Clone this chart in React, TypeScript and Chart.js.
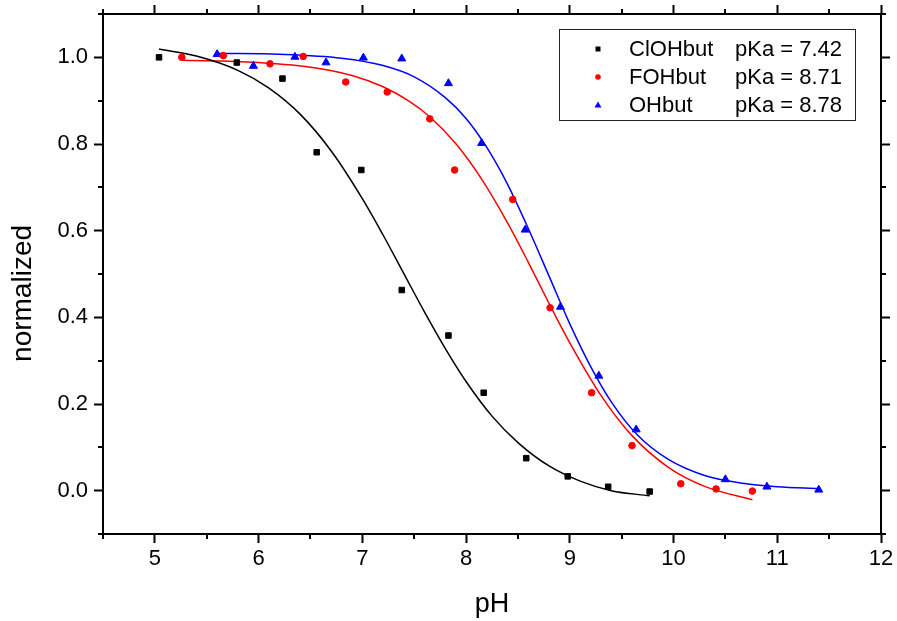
import React, { useEffect, useRef } from "react";
import { Chart, registerables } from "chart.js";

Chart.register(...registerables);

// ---- measured data ----
const clPH = [5.04, 5.79, 6.23, 6.56, 6.99, 7.38, 7.83, 8.17, 8.58, 8.98, 9.37, 9.77];
const clNorm = [1.0, 0.988, 0.951, 0.781, 0.74, 0.463, 0.358, 0.226, 0.075, 0.033, 0.009, -0.002];

const fPH = [5.26, 5.66, 6.11, 6.43, 6.84, 7.24, 7.65, 7.89, 8.45, 8.81, 9.21, 9.6, 10.07, 10.41, 10.76];
const fNorm = [1.0, 1.004, 0.985, 1.002, 0.943, 0.92, 0.858, 0.74, 0.672, 0.422, 0.226, 0.104, 0.016, 0.004, -0.001];

const ohPH = [5.6, 5.95, 6.35, 6.65, 7.01, 7.38, 7.83, 8.15, 8.57, 8.91, 9.28, 9.64, 10.5, 10.9, 11.4];
const ohNorm = [1.007, 0.98, 1.001, 0.988, 0.999, 0.997, 0.94, 0.802, 0.602, 0.424, 0.265, 0.141, 0.026, 0.009, 0.002];

// ---- fitted curves ----
const clFitPH = [5.04, 5.4, 5.8, 6.1, 6.4, 6.7, 7.0, 7.2, 7.4, 7.6, 7.8, 8.0, 8.25, 8.5, 8.8, 9.1, 9.4, 9.77];
const clFitNorm = [1.019, 1.003, 0.97, 0.929, 0.869, 0.784, 0.674, 0.59, 0.501, 0.412, 0.328, 0.252, 0.172, 0.111, 0.057, 0.022, 0.0, -0.012];

const fFitPH = [5.26, 5.9, 6.5, 6.9, 7.2, 7.45, 7.65, 7.9, 8.15, 8.4, 8.6, 8.8, 9.0, 9.3, 9.6, 9.95, 10.3, 10.76];
const fFitNorm = [0.993, 0.989, 0.977, 0.958, 0.932, 0.899, 0.863, 0.801, 0.719, 0.618, 0.527, 0.432, 0.341, 0.22, 0.127, 0.054, 0.01, -0.021];

const ohFitPH = [5.6, 6.2, 6.8, 7.2, 7.5, 7.8, 8.0, 8.2, 8.4, 8.6, 8.8, 9.0, 9.2, 9.4, 9.65, 9.95, 10.3, 10.7, 11.0, 11.4];
const ohFitNorm = [1.009, 1.007, 0.998, 0.981, 0.955, 0.907, 0.859, 0.792, 0.707, 0.605, 0.495, 0.385, 0.287, 0.205, 0.129, 0.072, 0.035, 0.016, 0.009, 0.005];

const seriesNames = ["ClOHbut", "FOHbut", "OHbut"];
const pKaLabels = ["pKa = 7.42", "pKa = 8.71", "pKa = 8.78"];
const seriesColors = ["#000000", "#ff0000", "#0000ff"];
const seriesShapes = ["rect", "circle", "triangle"];

const xMajor = [5, 6, 7, 8, 9, 10, 11, 12];
const xMinor = [4.5, 5.5, 6.5, 7.5, 8.5, 9.5, 10.5, 11.5];
const yMajor = [0, 0.2, 0.4, 0.6, 0.8, 1.0];
const yMinor = [-0.1, 0.1, 0.3, 0.5, 0.7, 0.9, 1.1];

const FONT = "'Liberation Sans', Arial, sans-serif";

const zip = (xs: number[], ys: number[]) => xs.map((x, i) => ({ x, y: ys[i] }));

const minorTicks = {
  id: "minorTicks",
  afterDraw(chart: any) {
    const { ctx, chartArea: a, scales } = chart;
    const xs = scales.x, ys = scales.y;
    ctx.save();
    ctx.strokeStyle = "#000";
    ctx.lineWidth = 2;
    ctx.beginPath();
    for (const v of xMinor) {
      const px = Math.round(xs.getPixelForValue(v));
      ctx.moveTo(px, a.bottom); ctx.lineTo(px, a.bottom + 5);
      ctx.moveTo(px, a.top); ctx.lineTo(px, a.top - 5);
    }
    for (const v of yMinor) {
      const py = Math.round(ys.getPixelForValue(v));
      ctx.moveTo(a.left, py); ctx.lineTo(a.left - 5, py);
      ctx.moveTo(a.right, py); ctx.lineTo(a.right + 5, py);
    }
    ctx.stroke();
    ctx.restore();
  },
};

const legendBox = {
  id: "legendBox",
  afterDraw(chart: any) {
    const { ctx } = chart;
    ctx.save();
    ctx.strokeStyle = "#222";
    ctx.lineWidth = 1;
    ctx.strokeRect(559.5, 29.5, 296, 91);
    ctx.font = `22px ${FONT}`;
    ctx.textBaseline = "middle";
    ctx.textAlign = "left";
    const rows = [49, 77, 105];
    for (let i = 0; i < 3; i++) {
      const y = rows[i];
      const x = 598;
      ctx.fillStyle = seriesColors[i];
      ctx.beginPath();
      if (seriesShapes[i] === "rect") {
        ctx.rect(x - 2.5, y - 2.5, 5, 5);
      } else if (seriesShapes[i] === "circle") {
        ctx.arc(x, y, 2.8, 0, Math.PI * 2);
      } else {
        ctx.moveTo(x, y - 3.5);
        ctx.lineTo(x + 3.5, y + 2.5);
        ctx.lineTo(x - 3.5, y + 2.5);
        ctx.closePath();
      }
      ctx.fill();
      ctx.fillStyle = "#000";
      ctx.fillText(seriesNames[i], 629, y + 1);
      ctx.fillText(pKaLabels[i], 735, y + 1);
    }
    ctx.restore();
  },
};

export default function App() {
  const ref = useRef<HTMLCanvasElement | null>(null);
  useEffect(() => {
    document.body.style.margin = "0";
    const canvas = ref.current!;
    const pointDs = (i: number, xs: number[], ys: number[], r: number) => ({
      label: seriesNames[i],
      data: zip(xs, ys),
      showLine: false,
      pointStyle: seriesShapes[i],
      pointRadius: r,
      pointBackgroundColor: seriesColors[i],
      pointBorderColor: seriesColors[i],
      pointBorderWidth: 1,
    });
    const lineDs = (i: number, xs: number[], ys: number[]) => ({
      label: seriesNames[i] + " fit",
      data: zip(xs, ys),
      showLine: true,
      pointRadius: 0,
      borderColor: seriesColors[i],
      borderWidth: 1.5,
      fill: false,
      cubicInterpolationMode: "monotone",
    });
    const tickGrid = {
      display: true,
      drawOnChartArea: false,
      drawTicks: true,
      tickLength: 9,
      tickWidth: 2,
      tickColor: "#000",
    };
    const border = { display: true, color: "#000", width: 2 };
    const fitH = (h: number) => (s: any) => { s.height = h; s.paddingLeft = 0; s.paddingRight = 0; };
    const fitW = (w: number) => (s: any) => { s.width = w; s.paddingTop = 0; s.paddingBottom = 0; };
    const chart = new Chart(canvas, {
      type: "scatter",
      data: {
        datasets: [
          pointDs(0, clPH, clNorm, 3.9),
          pointDs(1, fPH, fNorm, 3.3),
          pointDs(2, ohPH, ohNorm, 4.6),
          lineDs(0, clFitPH, clFitNorm),
          lineDs(1, fFitPH, fFitNorm),
          lineDs(2, ohFitPH, ohFitNorm),
        ] as any,
      },
      options: {
        animation: false,
        responsive: false,
        devicePixelRatio: 1,
        layout: { padding: 0 },
        plugins: { legend: { display: false }, tooltip: { enabled: false } },
        scales: {
          x: {
            type: "linear",
            position: "bottom",
            min: 4.5,
            max: 12,
            afterBuildTicks: (s: any) => { s.ticks = xMajor.map((v) => ({ value: v })); },
            afterFit: fitH(87),
            grid: tickGrid,
            border,
            ticks: {
              color: "#000",
              font: { family: FONT, size: 22 },
              padding: 3,
              maxRotation: 0,
              callback: (v: any) => String(v),
            },
            title: {
              display: true,
              text: "pH",
              color: "#000",
              font: { family: FONT, size: 27 },
              padding: { top: 0, bottom: 0 },
            },
          },
          x2: {
            type: "linear",
            position: "top",
            min: 4.5,
            max: 12,
            afterBuildTicks: (s: any) => { s.ticks = xMajor.map((v) => ({ value: v })); },
            afterFit: fitH(14),
            grid: tickGrid,
            border,
            ticks: { display: false },
          },
          y: {
            type: "linear",
            position: "left",
            min: -0.1,
            max: 1.1,
            afterBuildTicks: (s: any) => { s.ticks = yMajor.map((v) => ({ value: v })); },
            afterFit: fitW(103),
            grid: tickGrid,
            border,
            ticks: {
              color: "#000",
              font: { family: FONT, size: 22 },
              padding: 6,
              callback: (v: any) => Number(v).toFixed(1),
            },
            title: {
              display: true,
              text: "normalized\u00a0\u00a0\u00a0\u00a0\u00a0",
              color: "#000",
              font: { family: FONT, size: 28 },
              padding: { top: 6, bottom: 0 },
            },
          },
          y2: {
            type: "linear",
            position: "right",
            min: -0.1,
            max: 1.1,
            afterBuildTicks: (s: any) => { s.ticks = yMajor.map((v) => ({ value: v })); },
            afterFit: fitW(16),
            grid: tickGrid,
            border,
            ticks: { display: false },
          },
        },
      } as any,
      plugins: [minorTicks, legendBox],
    });
    return () => chart.destroy();
  }, []);
  return (
    <div style={{ position: "absolute", left: 0, top: 0, width: 897, height: 621, background: "#fff" }}>
      <canvas ref={ref} width={897} height={621} style={{ width: 897, height: 621, display: "block" }} />
    </div>
  );
}
